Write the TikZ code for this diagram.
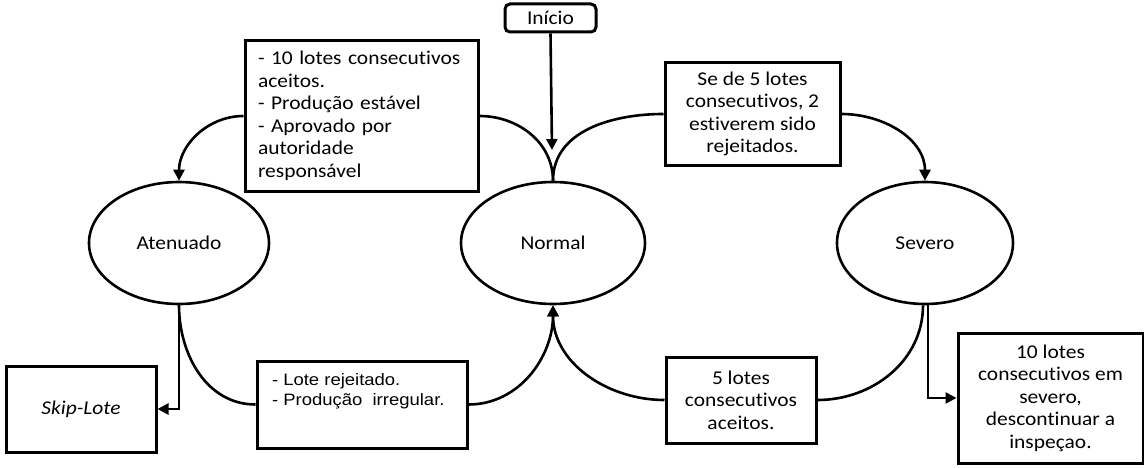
\documentclass[tikz,border=0pt]{standalone}
\usepackage{fontspec}
\setmainfont{Carlito}[FakeStretch=1.1,RawFeature=-liga]
\newfontfamily\arialf{Liberation Sans}[FakeStretch=1.12]
\usetikzlibrary{shapes.geometric,arrows.meta}
\begin{document}
\begin{tikzpicture}[x=1pt,y=1pt,
  every node/.style={font=\fontsize{19.5}{22.5}\selectfont},
  state/.style={ellipse, draw, line width=2.6pt, inner sep=0pt},
  box/.style={rectangle, draw, line width=3pt, inner sep=0pt, align=center},
  conn/.style={line width=2.6pt},
  arr/.style={conn, -{Triangle[length=11pt,width=11pt]}},
]
\useasboundingbox (0,0) rectangle (1144,467);

\node[box, rounded corners=5pt, minimum width=91, minimum height=28] (inicio) at (550.5,449) {Início};

\node[box, minimum width=233, minimum height=150, align=left, text width=207] (boxA) at (361.5,351)
  {- 10 lotes consecutivos\\aceitos.\\- Produção estável\\- Aprovado por\\autoridade\\responsável};

\node[box, minimum width=175, minimum height=102] (boxB) at (752.5,353)
  {Se de 5 lotes\\consecutivos, 2\\estiverem sido\\rejeitados.};

\node[state, minimum width=180, minimum height=122] (aten) at (179,224) {Atenuado};
\node[state, minimum width=184, minimum height=122] (norm) at (553,224) {Normal};
\node[state, minimum width=176, minimum height=122] (sev) at (925,224) {Severo};

\node[box, minimum width=150, minimum height=86] (skip) at (81,58) {\itshape Skip-Lote};

\node[box, minimum width=210, minimum height=87] (boxC) at (362,62.5)
  {\parbox[c][87pt][t]{180pt}{\arialf\fontsize{16.5}{20}\selectfont\raggedright\vspace*{13pt}- Lote rejeitado.\\- Produção\ \ irregular.}};

\node[box, minimum width=150, minimum height=86] (boxD) at (741,67)
  {5 lotes\\consecutivos\\aceitos.};

\node[box, minimum width=185, minimum height=130] (boxE) at (1050.5,69)
  {10 lotes\\consecutivos em\\severo,\\descontinuar a\\inspeçao.};

\coordinate (inTip) at (552,317);
\draw[arr] (inicio.south) -- (inTip);
\draw[conn] (boxA.east) to[out=0,in=90] (norm.north);
\draw[arr] (boxA.west) to[out=180,in=90] (aten.north);
\draw[conn] (norm.north) to[out=90,in=180] (boxB.west);
\draw[arr] (boxB.east) to[out=0,in=90] (sev.north);
\draw[conn] (aten.south) to[out=270,in=180] (boxC.west);
\draw[arr] (boxC.east) to[out=0,in=270] (norm.south);
\draw[conn] ([xshift=-2pt]sev.south) to[out=270,in=0] (boxD.east);
\draw[arr] (boxD.west) to[out=180,in=270] (norm.south);
\draw[arr] (aten.south) |- (skip.east);
\draw[arr] ([xshift=3pt]sev.south) |- (boxE.west);
\end{tikzpicture}
\end{document}
